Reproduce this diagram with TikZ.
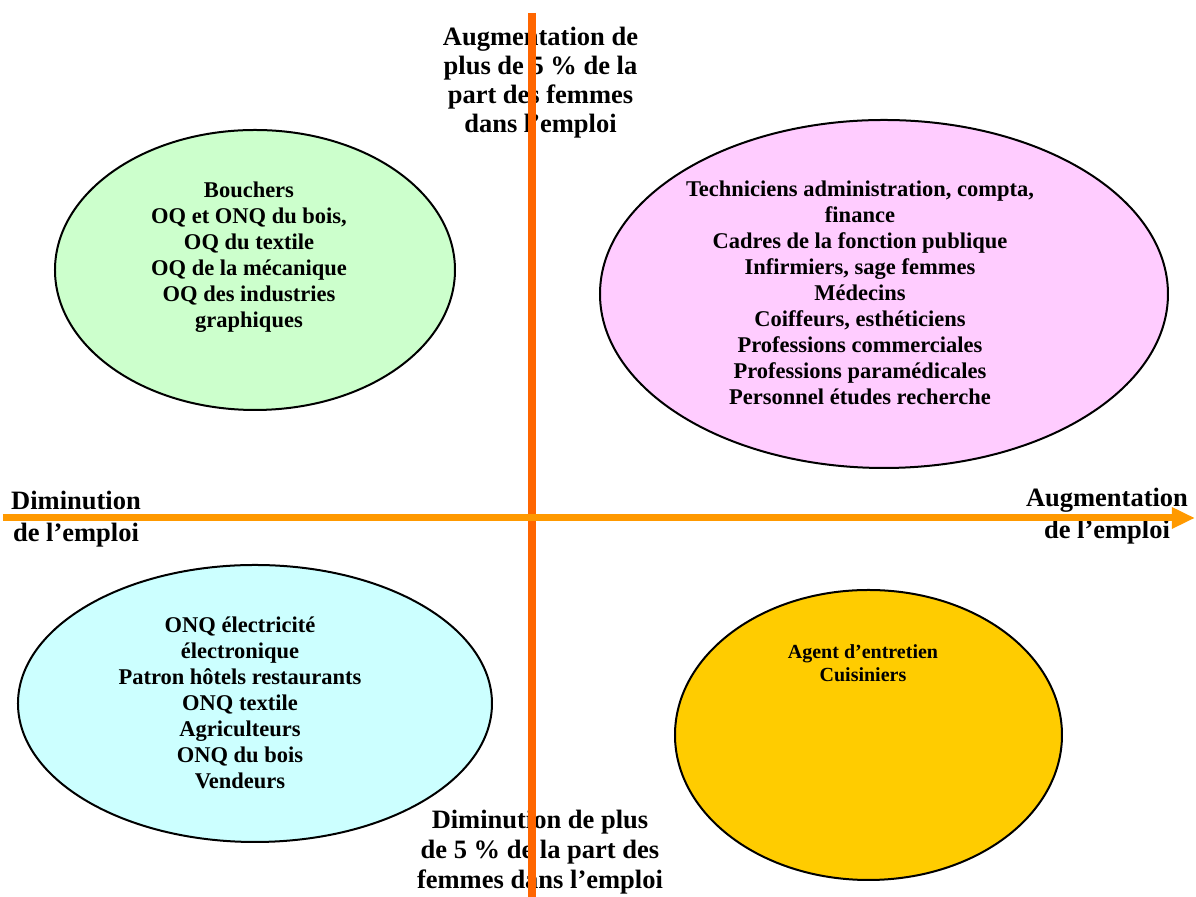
\documentclass[tikz,border=0pt]{standalone}
\usepackage{fontspec}
\setmainfont{Liberation Serif}
\usepackage{xcolor}
\usepackage{tikz}
\usetikzlibrary{shapes.geometric,arrows.meta}
\definecolor{paleGreen}{HTML}{CCFFCC}
\definecolor{palePink}{HTML}{FFCCFF}
\definecolor{paleCyan}{HTML}{CCFFFF}
\definecolor{gold}{HTML}{FFCC00}
\definecolor{axisRed}{HTML}{FF6600}
\definecolor{axisOrange}{HTML}{FF9900}
\tikzstyle{group}=[draw=black, shape=ellipse, line width=1pt, inner sep=0pt]
\tikzstyle{green group}=[style=group, fill=paleGreen]
\tikzstyle{pink group}=[style=group, fill=palePink]
\tikzstyle{cyan group}=[style=group, fill=paleCyan]
\tikzstyle{gold group}=[style=group, fill=gold]
\tikzstyle{list}=[align=center, inner sep=0pt, font=\fontsize{11.25}{13}\selectfont\bfseries]
\tikzstyle{axis label}=[align=center, inner sep=0pt, font=\fontsize{13.25}{16}\selectfont\bfseries]
\tikzstyle{red edge}=[-, draw=axisRed, line width=4pt]
\tikzstyle{orange edge}=[-{Triangle[length=11.5pt, width=10pt]}, draw=axisOrange, fill=axisOrange, line width=3.5pt]
\pgfdeclarelayer{nodelayer}
\pgfdeclarelayer{edgelayer}
\pgfsetlayers{main,nodelayer,edgelayer}

\begin{document}
\begin{tikzpicture}[x=25pt, y=25pt]
	\useasboundingbox (-10.64, 10.36) rectangle (13.28, -7.58);
	\begin{pgfonlayer}{nodelayer}
		\node [style=green group, minimum width=200pt, minimum height=140pt] (0) at (-5.54, 4.96) {};
		\node [style=pink group, minimum width=284pt, minimum height=174pt] (1) at (7.04, 4.48) {};
		\node [style=cyan group, minimum width=237pt, minimum height=138.5pt] (2) at (-5.54, -3.71) {};
		\node [style=gold group, minimum width=193.5pt, minimum height=145pt] (3) at (6.73, -4.34) {};
		\node [style=list] (4) at (-5.66, 5.21) {Bouchers\\OQ et ONQ du bois,\\OQ du textile\\OQ de la mécanique\\OQ des industries\\graphiques};
		\node [style=list] (5) at (6.56, 4.5) {Techniciens administration, compta,\\finance\\Cadres de la fonction publique\\Infirmiers, sage femmes\\Médecins\\Coiffeurs, esthéticiens\\Professions commerciales\\Professions paramédicales\\Personnel études recherche};
		\node [style=list] (6) at (-5.84, -3.69) {ONQ électricité\\électronique\\Patron hôtels restaurants\\ONQ textile\\Agriculteurs\\ONQ du bois\\Vendeurs};
		\node [style=list, font=\fontsize{10}{11.5}\selectfont\bfseries] (7) at (6.62, -2.91) {Agent d’entretien\\Cuisiniers};
		\node [style=axis label, font=\fontsize{13.25}{14.5}\selectfont\bfseries] (8) at (0.17, 8.71) {Augmentation de\\plus de 5 \% de la\\part des femmes\\dans l’emploi};
		\node [style=axis label, font=\fontsize{13.25}{15}\selectfont\bfseries] (9) at (0.16, -6.68) {Diminution de plus\\de 5 \% de la part des\\femmes dans l’emploi};
		\node [style=axis label] (10) at (-9.12, -0.02) {Diminution\\de l’emploi};
		\node [style=axis label] (11) at (11.5, 0.04) {Augmentation\\de l’emploi};
		\coordinate (12) at (0, 10.1);
		\coordinate (13) at (0, -7.58);
		\coordinate (14) at (-10.58, 0);
		\coordinate (15) at (13.26, 0);
	\end{pgfonlayer}
	\begin{pgfonlayer}{edgelayer}
		\draw [style=red edge] (12) to (13);
		\draw [style=orange edge] (14) to (15);
	\end{pgfonlayer}
\end{tikzpicture}
\end{document}
